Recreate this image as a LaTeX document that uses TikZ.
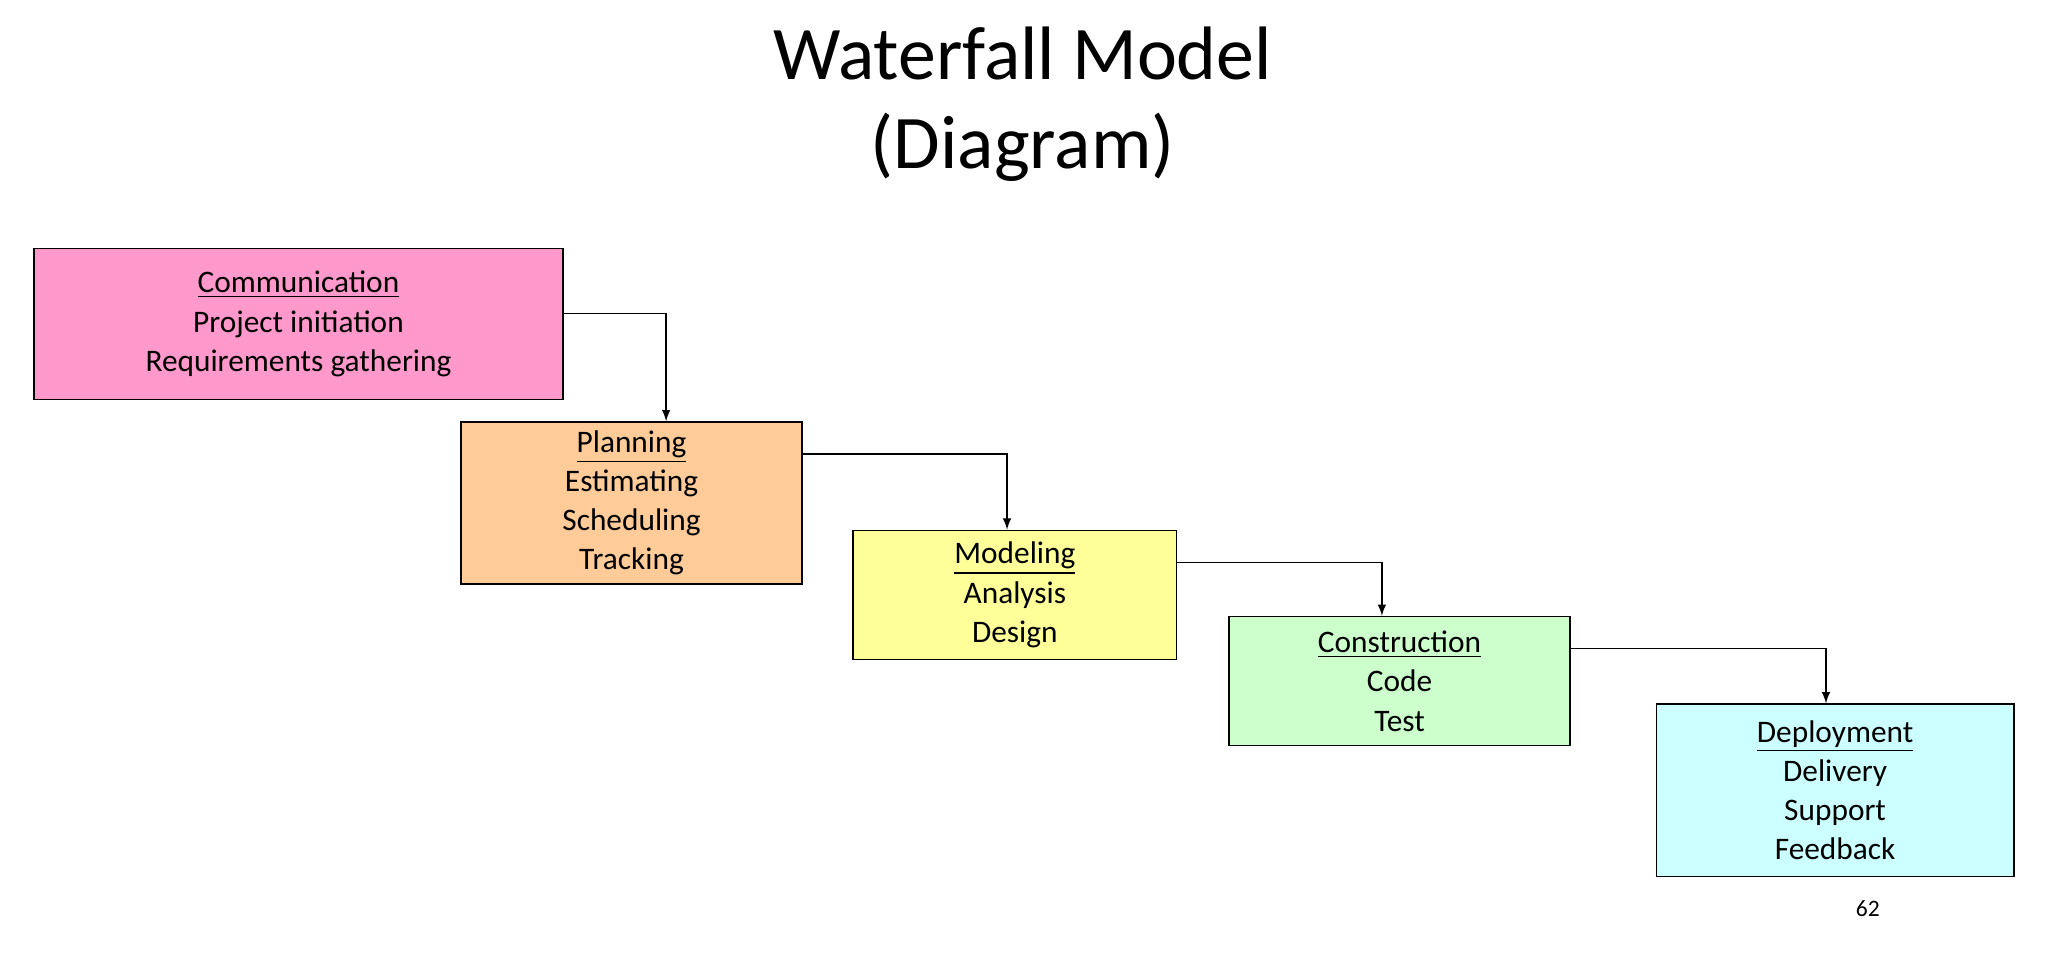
\documentclass[tikz,border=0pt]{standalone}
\usepackage{fontspec}
\setmainfont{Carlito}
\usetikzlibrary{calc}
\begin{document}
\begin{tikzpicture}[x=0.5pt,y=-0.5pt,
 box/.style={draw=black,line width=0.5pt,align=center,font=\fontsize{12}{15}\selectfont,inner sep=0pt},
 conn/.style={draw=black,line width=0.5pt,-latex}]
\useasboundingbox (0,0) rectangle (1568,746);
\node[align=center,font=\fontsize{29}{34}\selectfont] (title) at (783,80) {Waterfall Model\\(Diagram)};
\node[box,fill={rgb,255:red,255;green,153;blue,204},minimum width=202.5pt,minimum height=58pt] (comm) at (228.5,248) {\underline{Communication}\\Project initiation\\Requirements gathering};
\node[box,fill={rgb,255:red,255;green,204;blue,153},minimum width=130.5pt,minimum height=62pt] (plan) at (483.5,385) {\underline{Planning}\\Estimating\\Scheduling\\Tracking};
\node[box,fill={rgb,255:red,255;green,255;blue,153},minimum width=124pt,minimum height=49.5pt] (model) at (777,455.5) {\underline{Modeling}\\Analysis\\Design};
\node[box,fill={rgb,255:red,204;green,255;blue,204},minimum width=130.5pt,minimum height=49.5pt] (cons) at (1071.5,521.5) {\underline{Construction}\\Code\\Test};
\node[box,fill={rgb,255:red,204;green,255;blue,255},minimum width=137pt,minimum height=66pt] (dep) at (1405,605) {\underline{Deployment}\\Delivery\\Support\\Feedback};
\node[font=\fontsize{9}{11}\selectfont] (pg) at (1430,696) {62};
\draw[conn] ($(comm.north east)!0.43!(comm.south east)$) -| ([xshift=13.25pt]plan.north);
\draw[conn] ($(plan.north east)!0.2!(plan.south east)$) -| ([xshift=-3pt]model.north);
\draw[conn] ($(model.north east)!0.25!(model.south east)$) -| ([xshift=-6.75pt]cons.north);
\draw[conn] ($(cons.north east)!0.25!(cons.south east)$) -| ([xshift=-3.5pt]dep.north);
\end{tikzpicture}
\end{document}
